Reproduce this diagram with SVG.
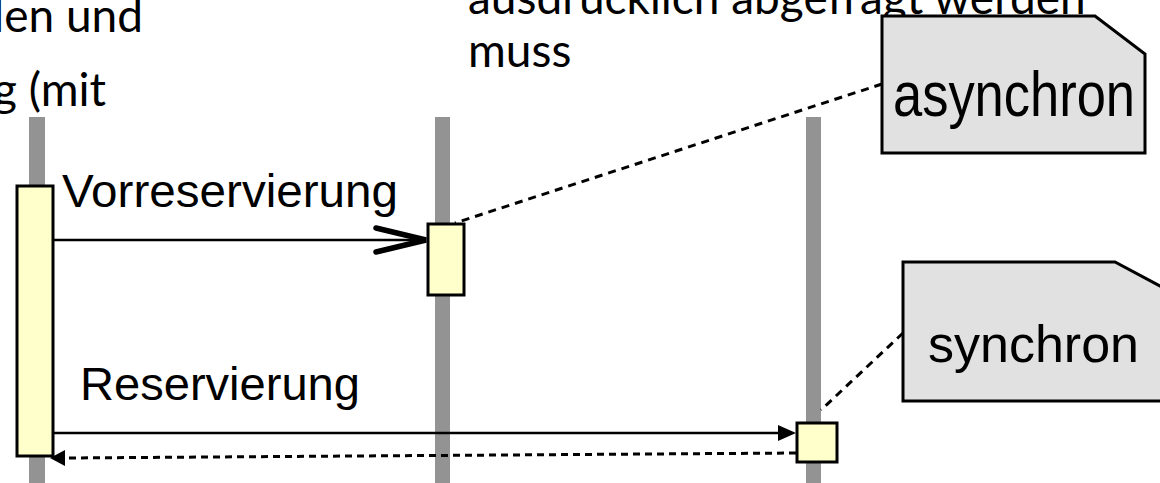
<svg xmlns="http://www.w3.org/2000/svg" width="1160" height="483" viewBox="0 0 1160 483">
<style>
.body{font-family:Lato,"Open Sans",sans-serif;font-size:46px;fill:#000}
.lbl{font-family:"Liberation Sans",Arial,sans-serif;font-size:47px;fill:#000}
.nt{font-family:"Liberation Sans",Arial,sans-serif;font-size:52px;fill:#000}
.life{fill:#939393}
.act{fill:#ffffcc;stroke:#000;stroke-width:3}
.note{fill:#e1e1e1;stroke:#000;stroke-width:3;stroke-linejoin:miter}
.msg{stroke:#000;stroke-width:2.5;fill:none}
.ret{stroke:#000;stroke-width:3;fill:none;stroke-dasharray:7 5}
.anc{stroke:#000;stroke-width:3;fill:none;stroke-dasharray:8 6}
</style>
<rect width="1160" height="483" fill="#fff"/>
<g id="slide-text">
<text class="body" x="143" y="32" text-anchor="end">len und</text>
<text class="body" x="106" y="106" text-anchor="end">g (mit</text>
<text class="body" x="468" y="14">ausdrücklich abgefragt werden</text>
<text class="body" x="468" y="67">muss</text>
</g>
<g id="lifeline-1"><rect class="life" x="29" y="117" width="16" height="366"/><rect class="act" x="17" y="186" width="36" height="270"/></g>
<g id="lifeline-2"><rect class="life" x="435" y="117" width="15" height="366"/><rect class="act" x="428" y="224" width="36" height="71"/></g>
<g id="lifeline-3"><rect class="life" x="806" y="117" width="15" height="366"/><rect class="act" x="797" y="423" width="40" height="39"/></g>
<g id="connectors">
<line class="msg" x1="54" y1="240" x2="426" y2="240"/>
<polyline points="376,228 426,240 376,252" fill="none" stroke="#000" stroke-width="5.5" stroke-linecap="round" stroke-linejoin="miter"/>
<line class="msg" x1="54" y1="433" x2="780" y2="433"/>
<polygon points="796,433 778,425 778,441" fill="#000"/>
<line class="ret" x1="796" y1="453" x2="64" y2="458"/>
<polygon points="50,458 65,450 65,466" fill="#000"/>
<line class="anc" x1="882" y1="84" x2="455" y2="223"/>
<line class="anc" x1="903" y1="333" x2="821" y2="410"/>
</g>
<g id="note-asynchron">
<path class="note" d="M882,16 H1095 L1145,54 V153 H882 Z"/>
<text class="nt" x="893" y="116" style="font-size:63px" textLength="242" lengthAdjust="spacingAndGlyphs">asynchron</text>
</g>
<g id="note-synchron">
<path class="note" d="M903,262 H1115 L1190,302 V401 H903 Z"/>
<text class="nt" x="928" y="362">synchron</text>
</g>
<g id="message-labels">
<text class="lbl" x="62" y="207" textLength="336" lengthAdjust="spacingAndGlyphs">Vorreservierung</text>
<text class="lbl" x="80" y="400" textLength="280" lengthAdjust="spacingAndGlyphs">Reservierung</text>
</g>
</svg>
